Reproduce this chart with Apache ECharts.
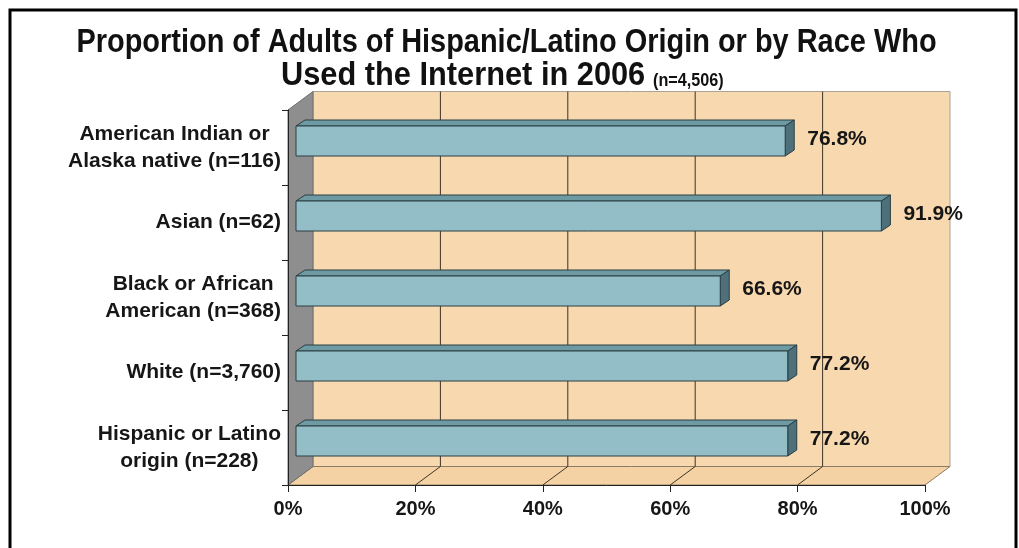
<!DOCTYPE html>
<html><head><meta charset="utf-8">
<script src="https://cdn.jsdelivr.net/npm/echarts@6/dist/echarts.min.js"></script>
<style>html,body{margin:0;padding:0;background:#fff}#c{width:1019px;height:548px}</style>
</head><body><div id="c"></div>
<script>
// ---- data ----
const categories = [
  'American Indian or\nAlaska native (n=116)',
  'Asian (n=62)',
  'Black or African\nAmerican (n=368)',
  'White (n=3,760)',
  'Hispanic or Latino\norigin (n=228)'
];
const values = [76.8, 91.9, 66.6, 77.2, 77.2];
const xTicks = [0, 20, 40, 60, 80, 100];
const titleLine1 = 'Proportion of Adults of Hispanic/Latino Origin or by Race Who';
const titleLine2 = 'Used the Internet in 2006';
const titleNote = '(n=4,506)';

// ---- style ----
const SANS = '"Liberation Sans",Arial,Helvetica,sans-serif';
const DX = 25, DY = -18.5;        // wall depth
const BX = 8, BY = -6.5;          // bar front face offset
const BDX = 9, BDY = -6;          // bar depth
const WALL = '#F7D8AF', FLOOR = '#F4D2A4', SIDE = '#8E8E8E';
const FRONT = '#93BEC7', TOP = '#6E9AA3', END = '#4D707A', EDGE = '#2A3E43';
const GRID = '#3E3426';
const TXT = '#161616';

const chart = echarts.init(document.getElementById('c'), null, {renderer: 'canvas'});

function renderBox(params, api) {
  const band = api.size([0, 1])[1];
  const n = categories.length;
  const top = api.coord([0, 0])[1] - band / 2;
  const bottom = top + band * n;
  const x0 = api.coord([xTicks[0], 0])[0];
  const x1 = api.coord([xTicks[xTicks.length - 1], 0])[0];
  const children = [
    {type: 'rect', shape: {x: x0 + DX, y: top + DY, width: x1 - x0, height: bottom - top},
      style: {fill: WALL, stroke: '#A8A29A', lineWidth: 1}},
    {type: 'polygon', shape: {points: [[x0, bottom], [x1, bottom], [x1 + DX, bottom + DY], [x0 + DX, bottom + DY]]},
      style: {fill: FLOOR, stroke: '#8C7B66', lineWidth: 1}},
    {type: 'polygon', shape: {points: [[x0, top], [x0 + DX, top + DY], [x0 + DX, bottom + DY], [x0, bottom]]},
      style: {fill: SIDE, stroke: '#6E6E6E', lineWidth: 1}}
  ];
  for (let k = 1; k < xTicks.length - 1; k++) {
    const xv = api.coord([xTicks[k], 0])[0];
    children.push({type: 'line', shape: {x1: xv + DX, y1: top + DY, x2: xv + DX, y2: bottom + DY},
      style: {stroke: GRID, lineWidth: 1}});
    children.push({type: 'line', shape: {x1: xv, y1: bottom, x2: xv + DX, y2: bottom + DY},
      style: {stroke: GRID, lineWidth: 1}});
  }
  return {type: 'group', children};
}

function renderBar(params, api) {
  const v = api.value(0), i = api.value(1);
  const p0 = api.coord([0, i]);
  const p1 = api.coord([v, i]);
  const band = api.size([0, 1])[1];
  const h = band * 0.4;
  const yT = p0[1] + BY - h / 2, yB = yT + h;
  const xL = p0[0] + BX, xR = p1[0] + BX;
  return {type: 'group', children: [
    {type: 'polygon', shape: {points: [[xL, yT], [xL + BDX, yT + BDY], [xR + BDX, yT + BDY], [xR, yT]]},
      style: {fill: TOP, stroke: EDGE, lineWidth: 1}},
    {type: 'polygon', shape: {points: [[xR, yT], [xR + BDX, yT + BDY], [xR + BDX, yB + BDY], [xR, yB]]},
      style: {fill: END, stroke: EDGE, lineWidth: 1}},
    {type: 'rect', shape: {x: xL, y: yT, width: xR - xL, height: h},
      style: {fill: FRONT, stroke: EDGE, lineWidth: 1}},
    {type: 'text', x: xR + BDX + 13, y: p0[1] - 8.5,
      style: {text: v.toFixed(1) + '%', fill: TXT, font: 'bold 21px ' + SANS,
        align: 'left', verticalAlign: 'middle'}}
  ]};
}

chart.setOption({
  animation: false,
  backgroundColor: '#ffffff',
  grid: {left: 288, right: 94, top: 110, bottom: 63, containLabel: false},
  xAxis: {
    type: 'value', min: xTicks[0], max: xTicks[xTicks.length - 1], interval: xTicks[1] - xTicks[0],
    z: 10,
    axisLine: {show: true, lineStyle: {color: '#222', width: 1}},
    axisTick: {show: true, length: 7, lineStyle: {color: '#222'}},
    splitLine: {show: false},
    axisLabel: {formatter: '{value}%', fontFamily: SANS, fontSize: 20, fontWeight: 'bold', color: TXT, margin: 14}
  },
  yAxis: {
    type: 'category', data: categories, inverse: true,
    z: 10,
    axisLine: {show: true, lineStyle: {color: '#222', width: 1}},
    axisTick: {show: true, length: 6, lineStyle: {color: '#222'}},
    splitLine: {show: false},
    axisLabel: {
      margin: 7, align: 'right',
      formatter: (s) => s.split('\n').map(t => '{c|' + t + '}').join('\n'),
      rich: {c: {align: 'center', fontFamily: SANS, fontSize: 21, fontWeight: 'bold', color: TXT, lineHeight: 27}}
    }
  },
  series: [
    {type: 'custom', name: 'box', z: 1, silent: true, renderItem: renderBox, data: [[0, 0]], encode: {x: 0, y: 1}},
    {type: 'custom', name: 'bars', z: 3, silent: true, renderItem: renderBar,
      data: values.map((v, i) => [v, i]), encode: {x: 0, y: 1}}
  ],
  graphic: [
    {type: 'text', silent: true, x: 506.5, y: 43, scaleX: 0.877,
      style: {text: titleLine1, font: 'bold 33px ' + SANS, fill: '#111', align: 'center', verticalAlign: 'middle'}},
    {type: 'text', silent: true, x: 281, y: 93, scaleX: 0.905,
      style: {text: titleLine2, font: 'bold 34px ' + SANS, fill: '#111', align: 'left', verticalAlign: 'bottom'}},
    {type: 'text', silent: true, x: 653, y: 90, scaleX: 0.9,
      style: {text: titleNote, font: 'bold 18px ' + SANS, fill: '#111', align: 'left', verticalAlign: 'bottom'}},
    {type: 'rect', silent: true, z: 100, shape: {x: 10, y: 10, width: 1006, height: 600},
      style: {fill: null, stroke: '#000', lineWidth: 3}}
  ]
});
</script>
</body></html>
